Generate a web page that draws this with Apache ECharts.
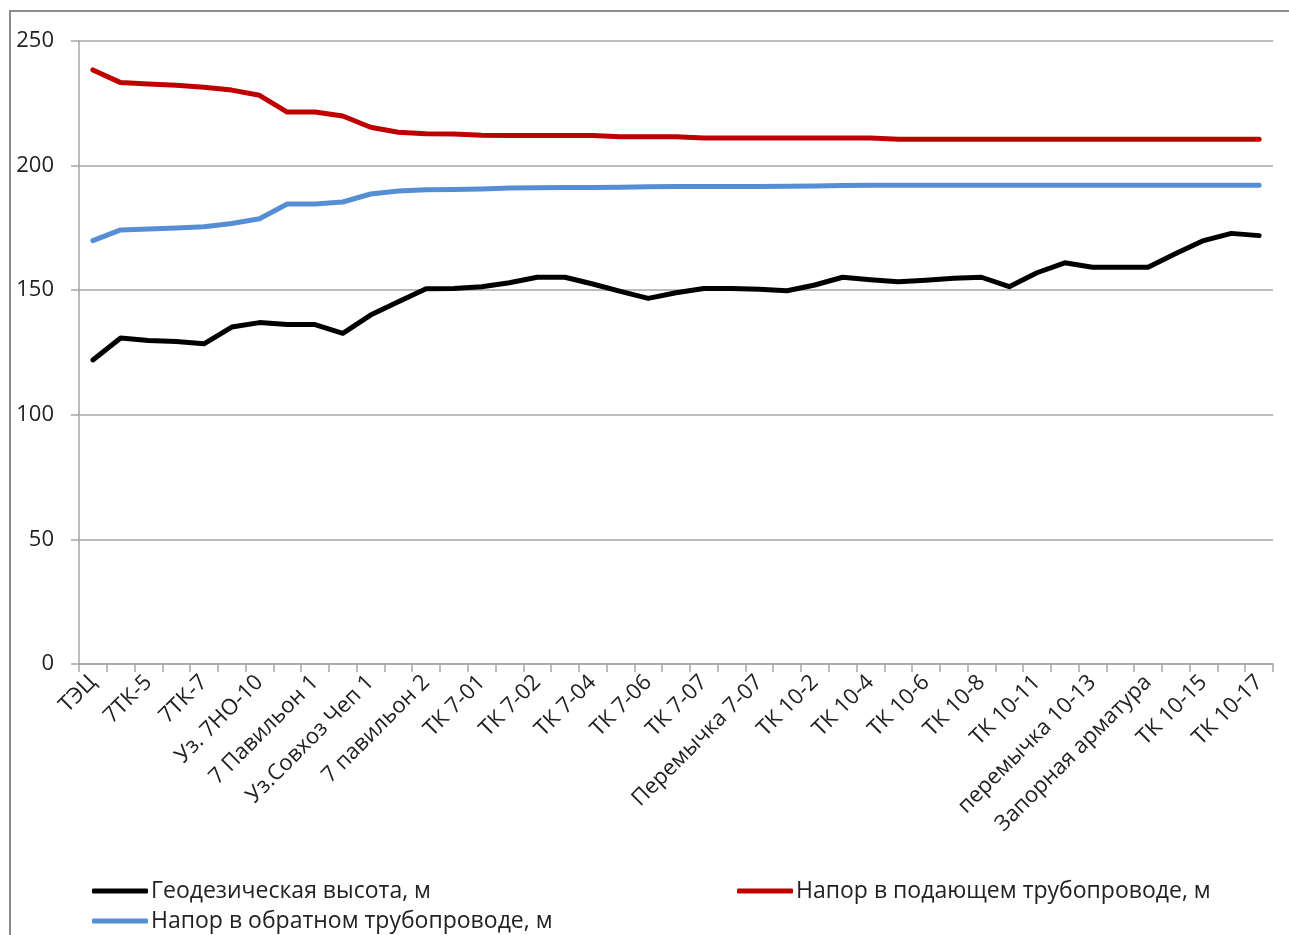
<!DOCTYPE html>
<html>
<head>
<meta charset="utf-8">
<script src="https://cdn.jsdelivr.net/npm/echarts@6/dist/echarts.min.js"></script>
<style>
html,body{margin:0;padding:0;background:#fff;}
#chart{width:1289px;height:935px;}
</style>
</head>
<body>
<div id="chart"></div>
<script>
const categories = [
  'ТЭЦ','7ТК-4','7ТК-5','7ТК-6','7ТК-7','7ТК-8','Уз. 7НО-10','7ТК-10','7 Павильон 1','7ТК-11',
  'Уз.Совхоз Чеп 1','7ТК-12','7 павильон 2','ТК 7-00','ТК 7-01','ТК 7-01а','ТК 7-02','ТК 7-03','ТК 7-04','ТК 7-05',
  'ТК 7-06','ТК 7-06а','ТК 7-07','ТК 7-07а','Перемычка 7-07','ТК 10-1','ТК 10-2','ТК 10-3','ТК 10-4','ТК 10-5',
  'ТК 10-6','ТК 10-7','ТК 10-8','ТК 10-9','ТК 10-11','ТК 10-12','перемычка 10-13','ТК 10-13','Запорная арматура','ТК 10-14',
  'ТК 10-15','ТК 10-16','ТК 10-17'
];
const seriesNames = ['Геодезическая высота, м','Напор в подающем трубопроводе, м','Напор в обратном трубопроводе, м'];
const geodetic = [122.0,130.8,129.8,129.4,128.5,135.2,137.0,136.2,136.2,132.7,
  140.0,145.4,150.6,150.7,151.4,153.0,155.2,155.2,152.5,149.5,
  146.7,149.0,150.7,150.7,150.4,149.8,152.1,155.2,154.2,153.4,
  154.0,154.8,155.2,151.4,157.0,161.0,159.2,159.2,159.2,164.7,
  169.9,172.8,171.9];
const supply = [238.4,233.3,232.7,232.2,231.4,230.3,228.2,221.5,221.5,219.9,
  215.4,213.4,212.8,212.7,212.2,212.1,212.1,212.1,212.1,211.6,
  211.6,211.6,211.1,211.1,211.1,211.1,211.1,211.1,211.1,210.6,
  210.6,210.6,210.6,210.6,210.6,210.6,210.6,210.6,210.6,210.6,
  210.6,210.6,210.6];
const ret = [169.9,174.2,174.6,175.0,175.5,176.8,178.7,184.6,184.6,185.4,
  188.6,189.8,190.3,190.4,190.6,191.0,191.1,191.2,191.2,191.3,
  191.5,191.6,191.6,191.6,191.6,191.7,191.8,192.0,192.1,192.1,
  192.1,192.1,192.1,192.1,192.1,192.1,192.1,192.1,192.1,192.1,
  192.1,192.1,192.1];
const yTicks = {min:0, max:250, interval:50};

const FONT = 'Open Sans';
const chart = echarts.init(document.getElementById('chart'), null, {renderer:'canvas'});
const legendCommon = {
  orient:'horizontal', icon:'roundRect', itemWidth:56, itemHeight:5, itemGap:10, padding:0,
  textStyle:{fontFamily:FONT, fontSize:23, color:'#222', lineHeight:26, padding:[0,0,0,-2]},
  selectedMode:false
};
const colors = ['#000000','#C00000','#558ED5'];
chart.setOption({
  animation:false,
  backgroundColor:'#fff',
  graphic:[{type:'rect', shape:{x:10,y:11,width:1300,height:1000}, style:{fill:'none', stroke:'#8c8c8c', lineWidth:2}, silent:true}],
  grid:{left:79, right:16, top:41, bottom:271, containLabel:false},
  legend:[
    Object.assign({data:[seriesNames[0]], left:92, top:878}, legendCommon),
    Object.assign({data:[seriesNames[1]], left:737, top:878}, legendCommon),
    Object.assign({data:[seriesNames[2]], left:92, top:908}, legendCommon)
  ],
  xAxis:{
    type:'category', data:categories, boundaryGap:true,
    axisLine:{show:true, lineStyle:{color:'#a6a6a6', width:1.5}},
    axisTick:{show:true, interval:0, length:8, inside:false, alignWithLabel:false, lineStyle:{color:'#a6a6a6', width:1.5}},
    axisLabel:{interval:1, rotate:45, margin:15, fontFamily:FONT, fontSize:22, color:'#222'},
    splitLine:{show:false}
  },
  yAxis:{
    type:'value', min:yTicks.min, max:yTicks.max, interval:yTicks.interval,
    axisLine:{show:true, lineStyle:{color:'#a6a6a6', width:1.5}},
    axisTick:{show:true, length:8, inside:false, lineStyle:{color:'#a6a6a6', width:1.5}},
    axisLabel:{margin:25, fontFamily:FONT, fontSize:22, color:'#222'},
    splitLine:{show:true, lineStyle:{color:'#a6a6a6', width:1.5}}
  },
  series:[
    {name:seriesNames[0], type:'line', data:geodetic, symbol:'none', color:colors[0], lineStyle:{width:5, color:colors[0], join:'round', cap:'round'}},
    {name:seriesNames[1], type:'line', data:supply, symbol:'none', color:colors[1], lineStyle:{width:5, color:colors[1], join:'round', cap:'round'}},
    {name:seriesNames[2], type:'line', data:ret, symbol:'none', color:colors[2], lineStyle:{width:5, color:colors[2], join:'round', cap:'round'}}
  ]
});
</script>
</body>
</html>
